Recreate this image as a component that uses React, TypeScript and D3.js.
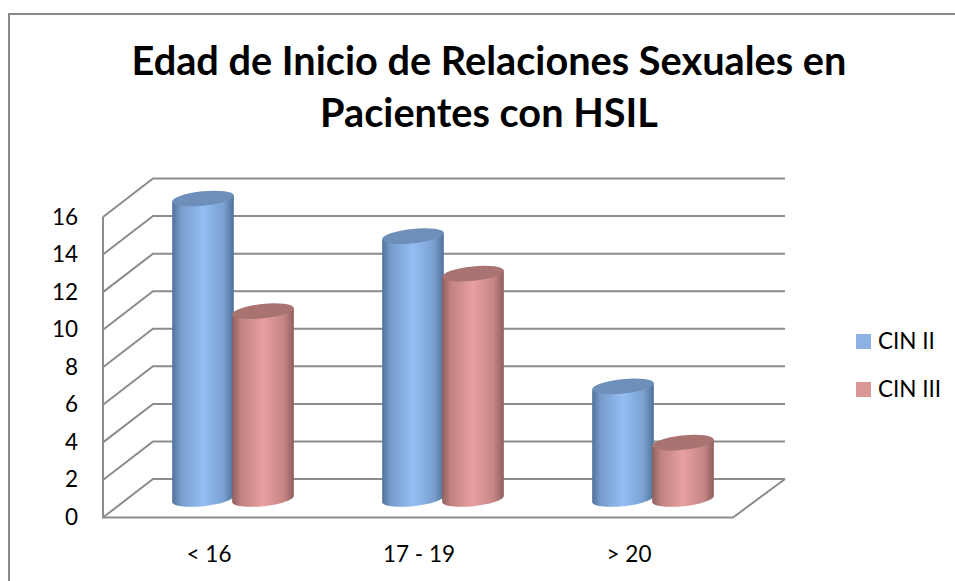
import React from "react";
import * as d3 from "d3";

const categories = ["< 16", "17 - 19", "> 20"];
const seriesNames = ["CIN II", "CIN III"];
const cin2 = [16, 14, 6];
const cin3 = [10, 12, 3];
const yTicks = [0, 2, 4, 6, 8, 10, 12, 14, 16];
const titleLines = ["Edad de Inicio de Relaciones Sexuales en", "Pacientes con HSIL"];
const FONT = "Lato, 'Open Sans', sans-serif";

const W = 955, H = 581;
const frontLeft = 103, frontRight = 733;
const depthX = 51, depthY = 38.5;
const y = d3.scaleLinear().domain([0, 16]).range([517.5, 217]);
const x = d3.scaleBand<string>().domain(categories).range([frontLeft, frontRight]);
const rx = 31, ry = 7.2, tiltDeg = -6, tilt = (tiltDeg * Math.PI) / 180;
const barOffset = 30;
const baseShift = 18.5; // bar base centre sits above the front floor edge

const palette = [
  { id: "b", edge: "#4f7299", mid: "#95bef3", top: "#6d8fb9" },
  { id: "r", edge: "#8f5f5e", mid: "#e89f9f", top: "#a97371" },
];
const legendColors = ["#8db1e2", "#d99694"];

function Cylinder({ cx, value, p }: { cx: number; value: number; p: (typeof palette)[0] }) {
  const dx = rx * Math.cos(tilt), dy = rx * Math.sin(tilt);
  const yTop = y(value) - baseShift, yBase = y(0) - baseShift;
  const side = `M${cx - dx},${yTop - dy}L${cx - dx},${yBase - dy}A${rx},${ry} ${tiltDeg} 0 0 ${cx + dx},${yBase + dy}L${cx + dx},${yTop + dy}Z`;
  return (
    <g>
      <path d={side} fill={`url(#grad-${p.id})`} />
      <ellipse cx={cx} cy={yTop} rx={rx} ry={ry} fill={p.top} transform={`rotate(${tiltDeg} ${cx} ${yTop})`} />
    </g>
  );
}

export default function App() {
  const grid = "#8c8c8c";
  return (
    <svg width={W} height={H} style={{ position: "absolute", left: 0, top: 0, background: "#fff" }}>
      <defs>
        {palette.map((p) => (
          <linearGradient key={p.id} id={`grad-${p.id}`} x1="0" x2="1" y1="0" y2="0">
            <stop offset="0" stopColor={p.edge} />
            <stop offset="0.14" stopColor={d3.interpolateRgb(p.edge, p.mid)(0.55)} />
            <stop offset="0.5" stopColor={p.mid} />
            <stop offset="0.84" stopColor={d3.interpolateRgb(p.edge, p.mid)(0.6)} />
            <stop offset="1" stopColor={p.edge} />
          </linearGradient>
        ))}
      </defs>
      <path d={`M9,${H}V14H${W}`} fill="none" stroke="#8a8a8a" strokeWidth={2} />
      {titleLines.map((t, i) => (
        <text key={t} x={489} y={75 + i * 52} textAnchor="middle" fontFamily={FONT} fontWeight={700} fontSize={39.7} fill="#000">
          {t}
        </text>
      ))}
      {yTicks.map((v) => (
        <g key={v}>
          <path
            d={`M${frontLeft},${y(v)}L${frontLeft + depthX - 1},${y(v) - depthY}H${frontRight + depthX + 1}`}
            fill="none"
            stroke={grid}
            strokeWidth={2}
          />
          <text x={78} y={y(v) + 7.5} textAnchor="end" fontFamily={FONT} fontSize={22.5} fill="#000">
            {v}
          </text>
        </g>
      ))}
      <path
        d={`M${frontLeft},${y(16)}V${y(0)}H${frontRight}L${frontRight + depthX + 1},${y(0) - depthY}`}
        fill="none"
        stroke={grid}
        strokeWidth={2}
      />
      {categories.map((c, i) => {
        const mid = x(c)! + x.bandwidth() / 2 + 25;
        return (
          <g key={c}>
            <Cylinder cx={mid - barOffset} value={cin2[i]} p={palette[0]} />
            <Cylinder cx={mid + barOffset} value={cin3[i]} p={palette[1]} />
            <text x={mid - 24} y={562} textAnchor="middle" fontFamily={FONT} fontSize={22.5} fill="#000">
              {c}
            </text>
          </g>
        );
      })}
      {seriesNames.map((s, i) => (
        <g key={s}>
          <rect x={856} y={334 + i * 48} width={15} height={15} fill={legendColors[i]} />
          <text x={878} y={349 + i * 48} fontFamily={FONT} fontSize={22.5} fill="#000">
            {s}
          </text>
        </g>
      ))}
    </svg>
  );
}
